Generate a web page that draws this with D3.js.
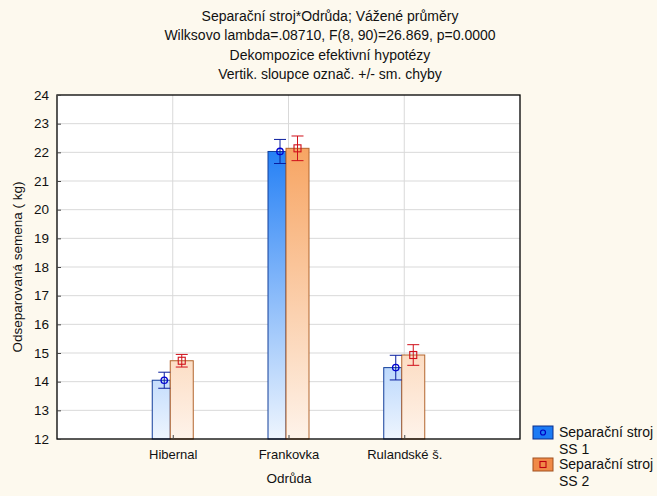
<!DOCTYPE html>
<html><head><meta charset="utf-8">
<script src="https://cdn.jsdelivr.net/npm/d3@7"></script>
<style>body{margin:0;background:#FDF9EE;}svg{display:block;font-family:"Liberation Sans",Arial,sans-serif;}</style>
</head><body><svg id="c" width="657" height="496"></svg>
<script>
const titleLines = ["Separační stroj*Odrůda; Vážené průměry","Wilksovo lambda=.08710, F(8, 90)=26.869, p=0.0000","Dekompozice efektivní hypotézy","Vertik. sloupce označ. +/- sm. chyby"];
const categories = ["Hibernal","Frankovka","Rulandské š."];
const seriesNames = ["Separační stroj\nSS 1","Separační stroj\nSS 2"];
const ss1Means = [14.05, 22.03, 14.49];
const ss1SE = [0.28, 0.42, 0.43];
const ss2Means = [14.73, 22.14, 14.93];
const ss2SE = [0.22, 0.43, 0.36];
const yTicks = [12,13,14,15,16,17,18,19,20,21,22,23,24];
const yTitle = "Odseparovaná semena ( kg)";
const xTitle = "Odrůda";

const svg = d3.select("#c");
const L=57,R=520,T=95,B=439;
const x = d3.scalePoint().domain(categories).range([L,R]).padding(1);
const y = d3.scaleLinear().domain([12,24]).range([B,T]);

const defs = svg.append("defs");
function grad(id,c1,c2){
  const g=defs.append("linearGradient").attr("id",id).attr("gradientUnits","userSpaceOnUse")
    .attr("x1",0).attr("x2",0).attr("y1",y(22.5)).attr("y2",B);
  g.append("stop").attr("offset",0).attr("stop-color",c1);
  g.append("stop").attr("offset",1).attr("stop-color",c2);
}
grad("gb","#1C7BF5","#EEF5FE");
grad("go","#F7A25E","#FEF3EA");

// title
svg.append("g").selectAll("text").data(titleLines).join("text")
  .attr("x",330).attr("y",(d,i)=>21+i*19.3).attr("text-anchor","middle")
  .attr("font-size",14).attr("fill","#111").text(d=>d);

svg.append("rect").attr("x",L).attr("y",T).attr("width",R-L).attr("height",B-T).attr("fill","#fff");
// grid
svg.append("g").selectAll("line").data(yTicks.slice(1,-1)).join("line")
  .attr("x1",L).attr("x2",R).attr("y1",d=>y(d)).attr("y2",d=>y(d)).attr("stroke","#D9D9D9");
svg.append("g").selectAll("line").data(categories).join("line")
  .attr("x1",d=>x(d)).attr("x2",d=>x(d)).attr("y1",T).attr("y2",B).attr("stroke","#D9D9D9");

// bars
const bw1=18,bw2=23;
const data = categories.map((c,i)=>({c,m1:ss1Means[i],e1:ss1SE[i],m2:ss2Means[i],e2:ss2SE[i]}));
const g=svg.append("g");
g.selectAll(".b1").data(data).join("rect")
  .attr("x",d=>x(d.c)-2.5-bw1).attr("width",bw1)
  .attr("y",d=>y(d.m1)).attr("height",d=>B-y(d.m1))
  .attr("fill","url(#gb)").attr("stroke","#123E9A").attr("stroke-width",1);
g.selectAll(".b2").data(data).join("rect")
  .attr("x",d=>x(d.c)-2.5).attr("width",bw2)
  .attr("y",d=>y(d.m2)).attr("height",d=>B-y(d.m2))
  .attr("fill","url(#go)").attr("stroke","#B2642C").attr("stroke-width",1);

// error bars
function err(sel,cx,m,e,col){
  sel.each(function(d){
    const s=d3.select(this), X=cx(d), yt=y(m(d)+e(d)), yb=y(m(d)-e(d));
    s.append("line").attr("x1",X).attr("x2",X).attr("y1",yt).attr("y2",yb).attr("stroke",col);
    s.append("line").attr("x1",X-6).attr("x2",X+6).attr("y1",yt).attr("y2",yt).attr("stroke",col);
    s.append("line").attr("x1",X-6).attr("x2",X+6).attr("y1",yb).attr("y2",yb).attr("stroke",col);
  });
}
const e1=g.selectAll(".e1").data(data).join("g");
err(e1,d=>x(d.c)-8.5,d=>d.m1,d=>d.e1,"#0A1E9E");
e1.append("circle").attr("cx",d=>x(d.c)-8.5).attr("cy",d=>y(d.m1)).attr("r",3.2)
  .attr("fill","none").attr("stroke","#0000D0").attr("stroke-width",1.3);
const e2=g.selectAll(".e2").data(data).join("g");
err(e2,d=>x(d.c)+9,d=>d.m2,d=>d.e2,"#D0101A");
e2.append("rect").attr("x",d=>x(d.c)+9-3.5).attr("y",d=>y(d.m2)-3.5).attr("width",7).attr("height",7)
  .attr("fill","none").attr("stroke","#D0101A").attr("stroke-width",1.1);

// frame
svg.append("rect").attr("x",L).attr("y",T).attr("width",R-L).attr("height",B-T)
  .attr("fill","none").attr("stroke","#000").attr("stroke-width",1.3);

// axes
const ya=svg.append("g").attr("transform",`translate(${L},0)`)
  .call(d3.axisLeft(y).tickValues(yTicks).tickSize(-4).tickPadding(8));
ya.select(".domain").remove();
ya.selectAll("text").attr("font-size",13.5).attr("fill","#111").attr("font-family","Liberation Sans, Arial, sans-serif");
ya.selectAll("line").attr("stroke","#444");
const xa=svg.append("g").attr("transform",`translate(0,${B})`)
  .call(d3.axisBottom(x).tickSize(-4).tickPadding(11));
xa.select(".domain").remove();
xa.selectAll("text").attr("font-size",13).attr("fill","#111").attr("font-family","Liberation Sans, Arial, sans-serif");
xa.selectAll("line").attr("stroke","#444");

svg.append("text").attr("transform","translate(22,267) rotate(-90)").attr("text-anchor","middle")
  .attr("font-size",13.5).attr("fill","#111").text(yTitle);
svg.append("text").attr("x",289).attr("y",483).attr("text-anchor","middle")
  .attr("font-size",13.5).attr("fill","#111").text(xTitle);

// legend
const lg=svg.append("g");
const ly=[426,458];
[["#1C7BF5","#0A2E8A"],["#F08A48","#A0501E"]].forEach((c,i)=>{
  lg.append("rect").attr("x",533).attr("y",ly[i]).attr("width",20).attr("height",13)
    .attr("fill",c[0]).attr("stroke",c[1]);
  if(i===0) lg.append("circle").attr("cx",543).attr("cy",ly[i]+6.5).attr("r",2.5).attr("fill","none").attr("stroke","#0000C0").attr("stroke-width",1.2);
  else lg.append("rect").attr("x",540).attr("y",ly[i]+3.5).attr("width",6).attr("height",6).attr("fill","none").attr("stroke","#C00010").attr("stroke-width",1.1);
  const lines=seriesNames[i].split("\n");
  lg.append("text").attr("x",559).attr("y",ly[i]+11).attr("font-size",14).attr("fill","#111")
    .selectAll("tspan").data(lines).join("tspan").attr("x",559).attr("dy",(d,j)=>j?16.5:0).text(d=>d);
});
</script></body></html>
